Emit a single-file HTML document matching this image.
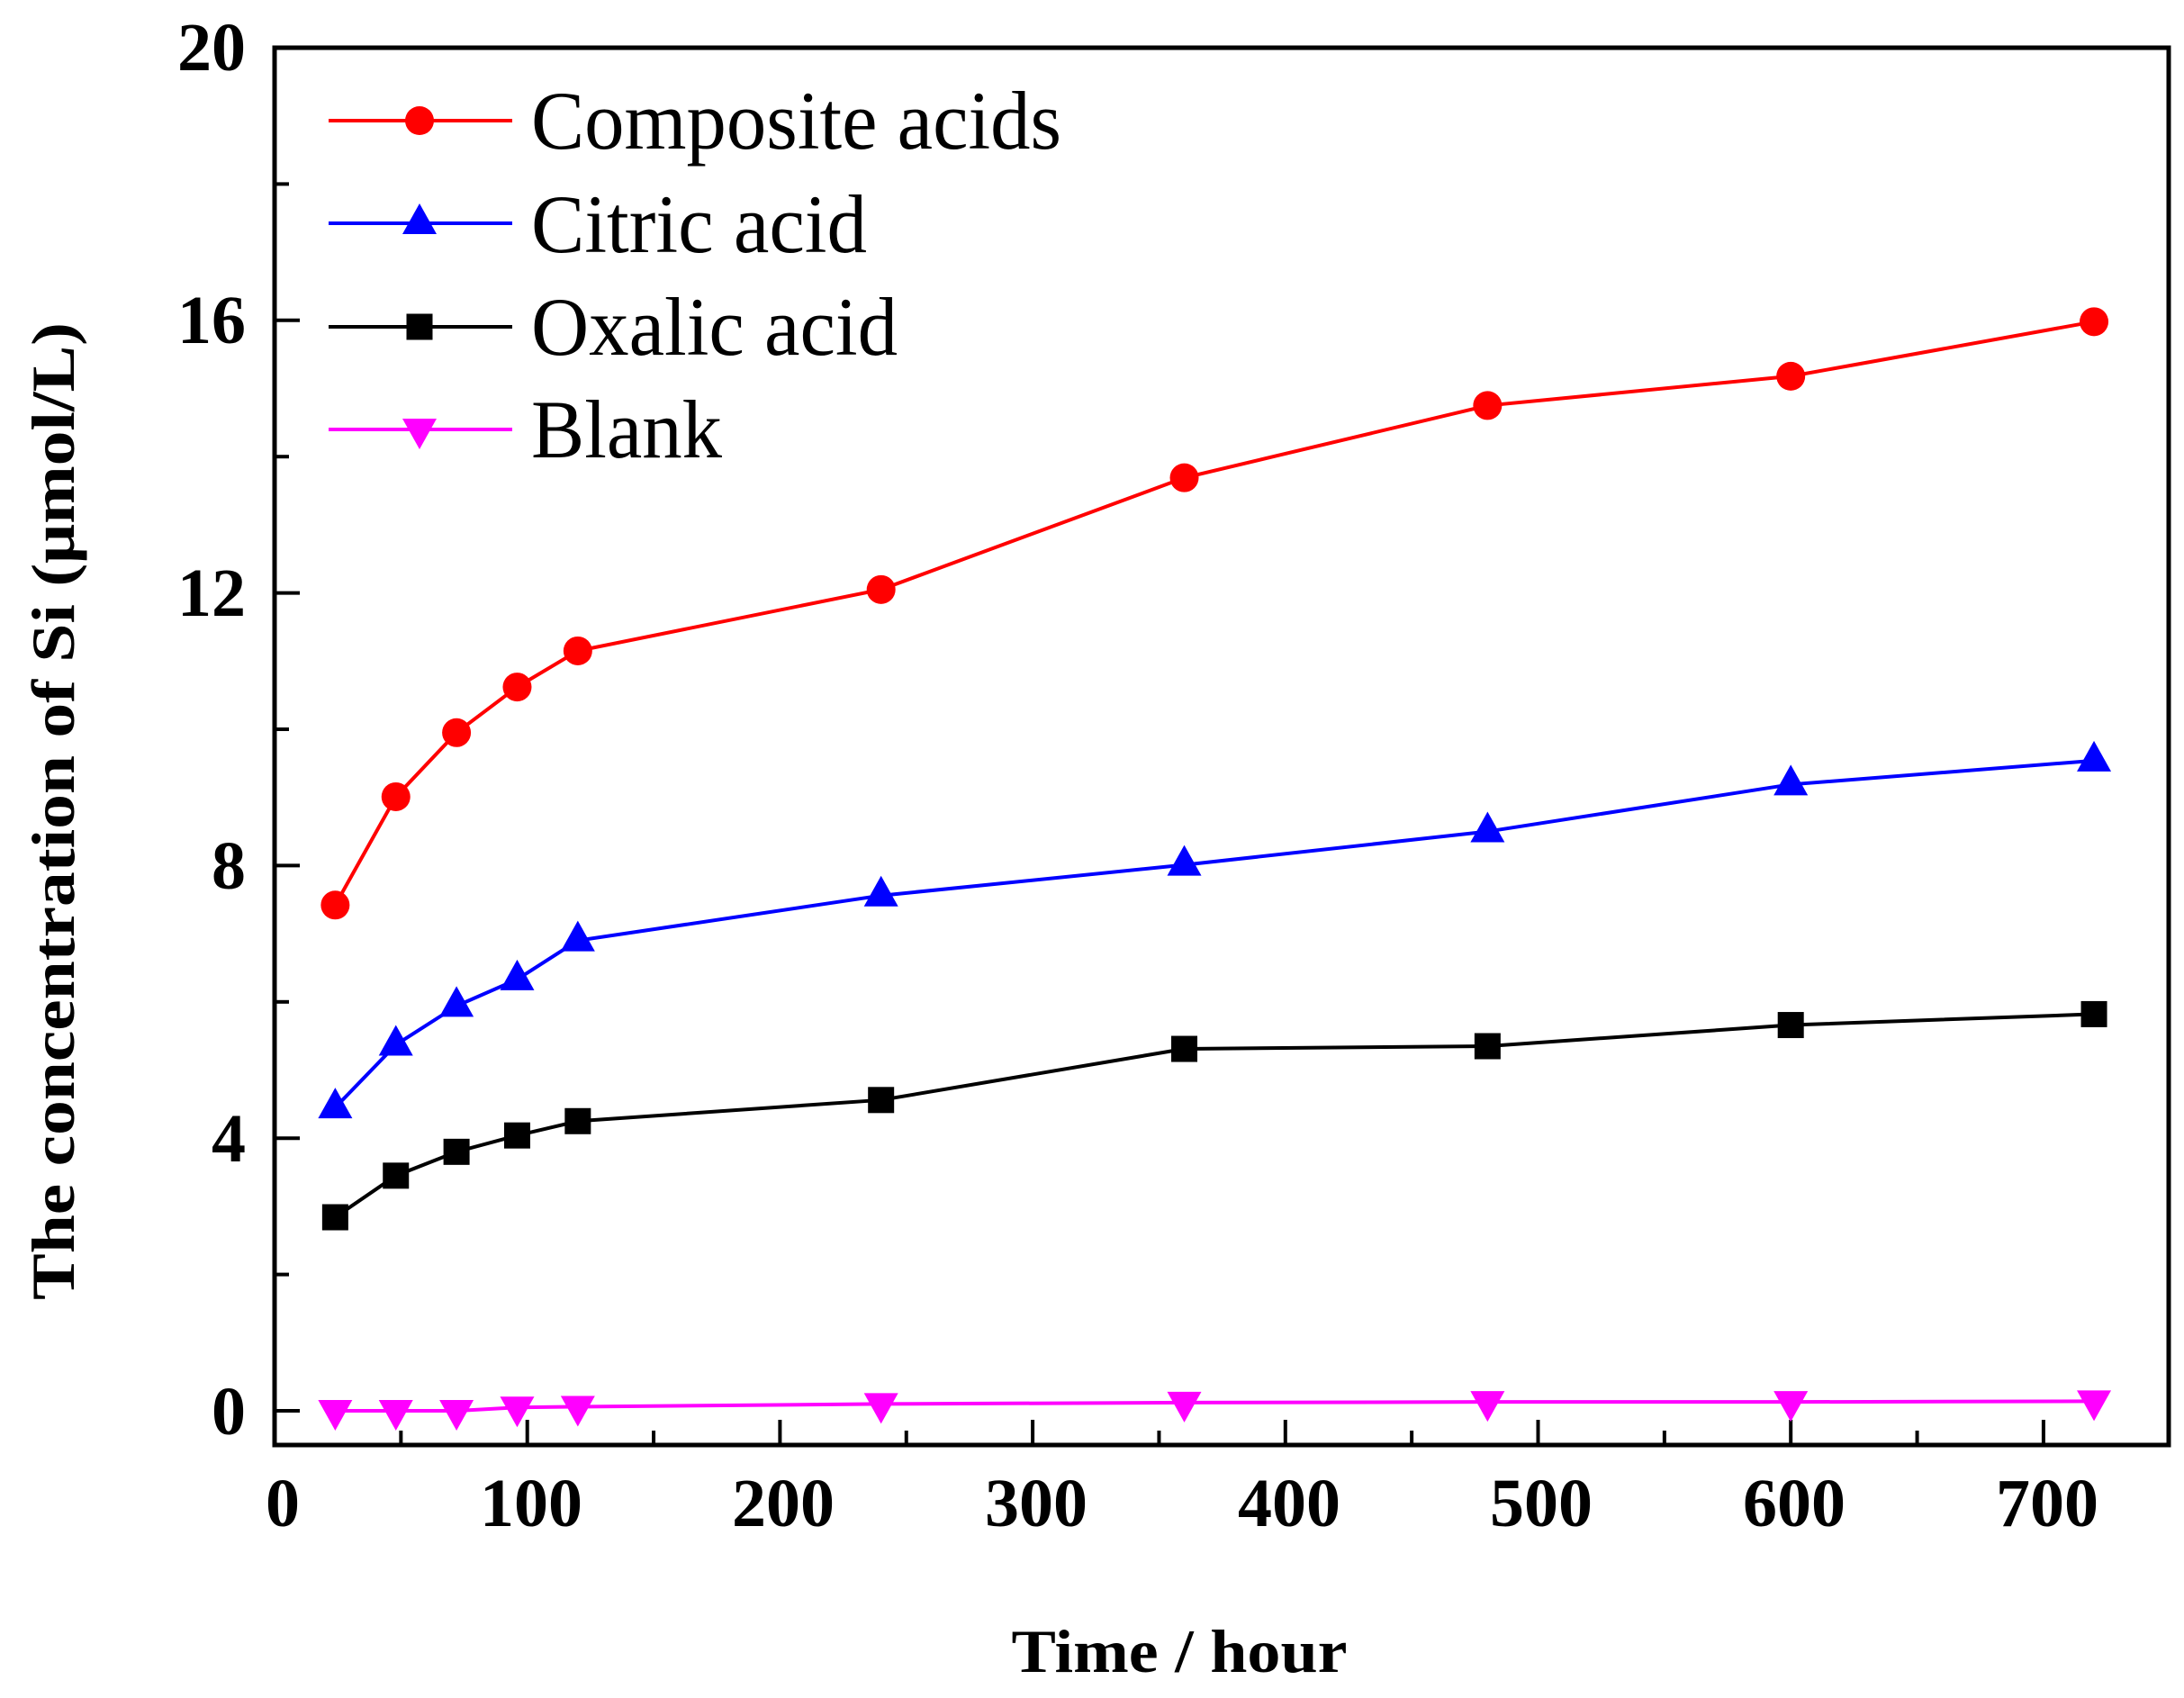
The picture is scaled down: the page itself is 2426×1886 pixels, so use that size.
<!DOCTYPE html>
<html><head><meta charset="utf-8"><style>html,body{margin:0;padding:0;background:#fff}svg{display:block}</style></head>
<body>
<svg id="s" width="2426" height="1886" viewBox="0 0 2426 1886" xmlns="http://www.w3.org/2000/svg" font-family="'Liberation Serif', serif">
<rect width="2426" height="1886" fill="#fff"/>
<g id="ticks" stroke="#000" stroke-width="4"></g>
<g id="data"></g>
<rect x="305" y="53" width="2104" height="1552" fill="none" stroke="#000" stroke-width="5"/>
<g font-weight="bold" font-size="76" text-anchor="end">
<text x="273" y="1593">0</text>
<text x="273" y="1290">4</text>
<text x="273" y="987">8</text>
<text x="273" y="684">12</text>
<text x="273" y="381">16</text>
<text x="273" y="78">20</text>
</g>
<g font-weight="bold" font-size="76" text-anchor="middle">
<text x="314" y="1695">0</text>
<text x="590" y="1695">100</text>
<text x="870" y="1695">200</text>
<text x="1151" y="1695">300</text>
<text x="1432" y="1695">400</text>
<text x="1712" y="1695">500</text>
<text x="1993" y="1695">600</text>
<text x="2274" y="1695">700</text>
</g>
<text x="1310" y="1857" font-weight="bold" font-size="68" text-anchor="middle" textLength="373" lengthAdjust="spacingAndGlyphs">Time / hour</text>
<text transform="translate(82,901) rotate(-90)" font-weight="bold" font-size="68" text-anchor="middle" textLength="1086" lengthAdjust="spacingAndGlyphs">The concentration of Si (μmol/L)</text>
<g font-size="92">
<text x="590" y="165" textLength="589" lengthAdjust="spacingAndGlyphs">Composite acids</text>
<text x="590" y="280" textLength="373" lengthAdjust="spacingAndGlyphs">Citric acid</text>
<text x="590" y="394" textLength="407" lengthAdjust="spacingAndGlyphs">Oxalic acid</text>
<text x="590" y="508" textLength="212" lengthAdjust="spacingAndGlyphs">Blank</text>
</g>
<g id="leg"></g>
</svg>
<script>
var NS="http://www.w3.org/2000/svg";
function X(v){return 305+v*2.807;}
function Y(v){return 1567-v*75.7;}
function el(p,t,a){var e=document.createElementNS(NS,t);for(var k in a)e.setAttribute(k,a[k]);p.appendChild(e);return e;}
var tk=document.getElementById('ticks');
for(var v=0;v<=20;v+=2){var maj=v%4==0;el(tk,'line',{x1:305,x2:305+(maj?28:16),y1:Y(v),y2:Y(v)});}
for(var h=50;h<=700;h+=50){var maj=h%100==0;el(tk,'line',{x1:X(h),x2:X(h),y1:1605,y2:1605-(maj?28:16)});}
var xs=[24,48,72,96,120,240,360,480,600,720];
var S=[
{c:'#ff0000',m:'c',y:[7.42,9.01,9.95,10.62,11.15,12.05,13.69,14.75,15.18,15.98]},
{c:'#0000ff',m:'t',y:[4.45,5.37,5.94,6.33,6.90,7.56,8.01,8.50,9.19,9.54]},
{c:'#000000',m:'s',y:[2.84,3.45,3.80,4.04,4.25,4.56,5.31,5.35,5.66,5.82]},
{c:'#ff00ff',m:'d',y:[0,0,0,0.05,0.06,0.1,0.12,0.13,0.13,0.14]}];
function mk(g,m,x,y,c){
 if(m=='c')el(g,'circle',{cx:x,cy:y,r:16,fill:c});
 else if(m=='s')el(g,'rect',{x:x-14.5,y:y-14.5,width:29,height:29,fill:c});
 else if(m=='t')el(g,'polygon',{points:(x)+','+(y-22)+' '+(x-19)+','+(y+12)+' '+(x+19)+','+(y+12),fill:c});
 else el(g,'polygon',{points:(x)+','+(y+22)+' '+(x-19)+','+(y-12)+' '+(x+19)+','+(y-12),fill:c});
}
var d=document.getElementById('data'),lg=document.getElementById('leg');
var ly=[134,248,363,477];
S.forEach(function(s,i){
 var pts=xs.map(function(x,j){return X(x)+','+Y(s.y[j]);}).join(' ');
 el(d,'polyline',{points:pts,fill:'none',stroke:s.c,'stroke-width':4});
 xs.forEach(function(x,j){mk(d,s.m,X(x),Y(s.y[j]),s.c);});
 el(lg,'line',{x1:365,x2:569,y1:ly[i],y2:ly[i],stroke:s.c,'stroke-width':4});
 mk(lg,s.m,466,ly[i],s.c);
});
</script>
</body></html>
